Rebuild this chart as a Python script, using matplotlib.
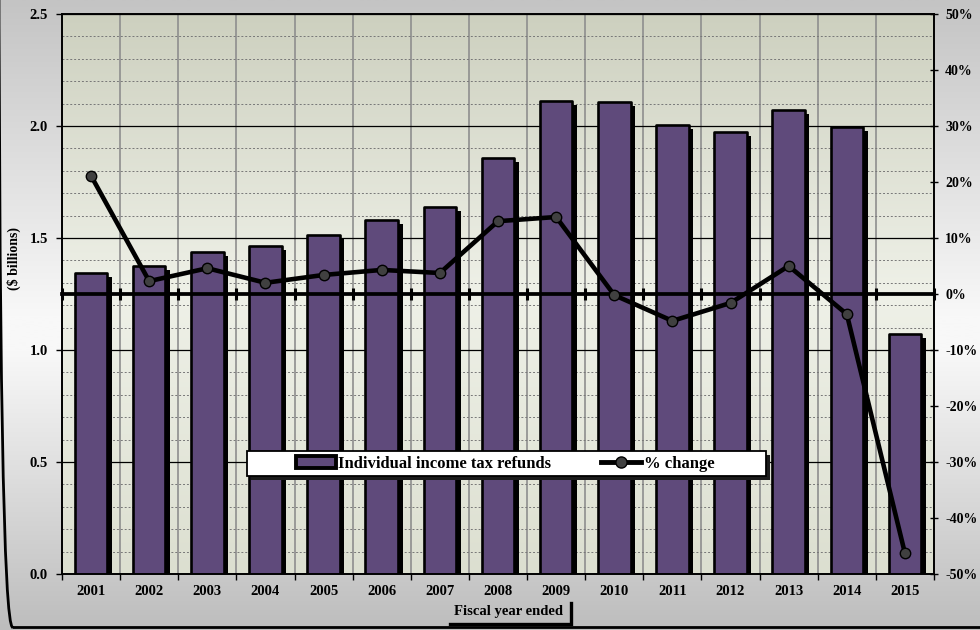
import numpy as np
import matplotlib
matplotlib.use('Agg')
import matplotlib.pyplot as plt
from matplotlib.patches import Rectangle, FancyBboxPatch, Patch
from matplotlib.lines import Line2D
from matplotlib.colors import LinearSegmentedColormap
from matplotlib.ticker import MultipleLocator, FixedLocator
import matplotlib.transforms as mtrans

# ---------------- data ----------------
years = ['2001', '2002', '2003', '2004', '2005', '2006', '2007', '2008',
         '2009', '2010', '2011', '2012', '2013', '2014', '2015']
refunds = [1.344, 1.375, 1.437, 1.464, 1.513, 1.580, 1.638, 1.857,
           2.110, 2.107, 2.004, 1.973, 2.070, 1.995, 1.071]
pct_change = [21.1, 2.3, 4.6, 2.0, 3.4, 4.3, 3.75, 13.0,
              13.75, -0.2, -4.8, -1.6, 5.0, -3.6, -46.3]
left_ticks = [0.0, 0.5, 1.0, 1.5, 2.0, 2.5]
left_labels = ['0.0', '0.5', '1.0', '1.5', '2.0', '2.5']
right_ticks = [-50, -40, -30, -20, -10, 0, 10, 20, 30, 40, 50]
right_labels = ['-50%', '-40%', '-30%', '-20%', '-10%', '0%',
                '10%', '20%', '30%', '40%', '50%']
series_names = ['Individual income tax refunds', '% change']
xlabel = 'Fiscal year ended'
ylabel = '($ billions)'

# ---------------- style ----------------
FONT = 'Liberation Serif'
plt.rcParams['font.family'] = [FONT, 'DejaVu Serif']
plt.rcParams['font.weight'] = 'bold'
BAR_COLOR = '#5f4a7b'
W, H = 980, 630


def fx(px):
    return px / W


def fy(py):
    return 1 - py / H


fig = plt.figure(figsize=(W / 100, H / 100), dpi=100)

# figure background gradient
bg = fig.add_axes([0, 0, 1, 1], zorder=-10)
bg.set_axis_off()
bg_cmap = LinearSegmentedColormap.from_list(
    'bg', [(0.0, '#c4c4c4'), (0.5, '#f8f8f8'), (0.56, '#f8f8f8'), (1.0, '#bdbdbd')])
bg.imshow(np.linspace(0, 1, 256).reshape(-1, 1), cmap=bg_cmap, aspect='auto',
          extent=(0, 1, 0, 1), origin='upper')
bg.set_xlim(0, 1)
bg.set_ylim(0, 1)

# rounded outer border (only bottom/left corner visible)
border = FancyBboxPatch((-1.2, 2.5), 1200, 800,
                        boxstyle='round,pad=0,rounding_size=14',
                        transform=mtrans.IdentityTransform(),
                        fc='none', ec='black', lw=2.0, zorder=20)
fig.patches.append(border)

# ---------------- main axes ----------------
ax = fig.add_axes([62 / W, (H - 574) / H, 872 / W, 560 / H])
n = len(years)
x = np.arange(n)

plot_cmap = LinearSegmentedColormap.from_list(
    'pa', [(0.0, '#cdd0bf'), (0.5, '#eff1e8'), (1.0, '#dcdfd0')])
ax.imshow(np.linspace(0, 1, 256).reshape(-1, 1), cmap=plot_cmap, aspect='auto',
          extent=(-0.5, n - 0.5, 0, 2.5), origin='upper', zorder=0)

# bar shadows and bars
ax.bar(x + 0.078, np.array(refunds) - 0.017, width=0.56, color='black',
       linewidth=0, zorder=2)
ax.bar(x, refunds, width=0.56, color=BAR_COLOR, edgecolor='black',
       linewidth=1.9, zorder=3, joinstyle='round')

ax.set_xlim(-0.5, n - 0.5)
ax.set_ylim(0, 2.5)
ax.set_axisbelow(True)

ax.set_xticks(x, years)
ax.xaxis.set_minor_locator(FixedLocator(np.arange(-0.5, n, 1.0)))
ax.set_yticks(left_ticks, left_labels)
ax.yaxis.set_minor_locator(MultipleLocator(0.1))

ax.grid(which='minor', axis='x', color='#8e8e8e', lw=1.2)
ax.grid(which='major', axis='y', color='black', lw=0.9)
ax.grid(which='minor', axis='y', color='#777777', lw=0.7, ls=(0, (2, 2)))

ax.tick_params(axis='x', which='major', length=0, pad=8, labelsize=10.5)
ax.tick_params(axis='x', which='minor', length=4, width=1, direction='out')
ax.tick_params(axis='y', which='major', length=4, width=1, direction='out',
               pad=6, labelsize=10.5)
ax.tick_params(axis='y', which='minor', length=0)
for lab in ax.get_xticklabels() + ax.get_yticklabels():
    lab.set_fontweight('bold')

for s in ['left', 'bottom', 'top', 'right']:
    ax.spines[s].set_color('black')
    ax.spines[s].set_linewidth(1.2)

# ---------------- secondary axis ----------------
ax2 = ax.twinx()
ax2.patch.set_visible(False)
ax2.set_ylim(-50, 50)
ax2.set_yticks(right_ticks, right_labels)
ax2.tick_params(axis='y', length=6, width=1, direction='inout', pad=5,
                labelsize=10)
for lab in ax2.get_yticklabels():
    lab.set_fontweight('bold')
for s in ['left', 'bottom', 'top', 'right']:
    ax2.spines[s].set_color('black')
    ax2.spines[s].set_linewidth(1.2)

bounds = np.arange(-0.5, n, 1.0)
ax2.plot(bounds, np.zeros_like(bounds), color='black', lw=2.7,
         marker='|', ms=8, mew=2.2, zorder=4, clip_on=False)
ax2.plot(x, pct_change, color='black', lw=3.3, marker='o', ms=7.5,
         mfc='#404040', mec='black', mew=1.0, zorder=5,
         solid_joinstyle='round', solid_capstyle='round')
ax2.set_xlim(-0.5, n - 0.5)

# ---------------- legend ----------------
lx0, ly0, lx1, ly1 = 247, 451, 766, 476
fig.patches.append(Rectangle((fx(lx0 + 4), fy(ly1 + 4)), (lx1 - lx0) / W,
                             (ly1 - ly0) / H, transform=fig.transFigure,
                             fc='#1a1a1a', ec='none', zorder=6))
fig.patches.append(Rectangle((fx(lx0), fy(ly1)), (lx1 - lx0) / W,
                             (ly1 - ly0) / H, transform=fig.transFigure,
                             fc='white', ec='black', lw=1.3, zorder=7))
handles = [Patch(facecolor=BAR_COLOR, edgecolor='black', lw=2.8,
                 joinstyle='round'),
           Line2D([0], [0], color='black', lw=3.5, marker='o', ms=8,
                  mfc='#404040', mec='black', mew=1.0)]
leg = fig.legend(handles, series_names, loc='center',
                 bbox_to_anchor=(fx(505), fy(464)), ncol=2, frameon=False,
                 prop={'family': FONT, 'weight': 'bold', 'size': 12},
                 handlelength=2.4, handletextpad=0.15, columnspacing=3.0,
                 handleheight=0.7)
leg.set_zorder(8)

# ---------------- axis titles ----------------
fig.text(fx(508), fy(611), xlabel, ha='center', va='center',
         fontsize=10.5, fontweight='bold', family=FONT)
fig.lines.append(Line2D([fx(450), fx(571), fx(571)],
                        [fy(623.5), fy(623.5), fy(603)],
                        transform=fig.transFigure, color='black', lw=2.4,
                        solid_joinstyle='miter'))
fig.text(fx(14), fy(258), ylabel, ha='center', va='center', rotation=90,
         fontsize=10, fontweight='bold', family=FONT)

fig.savefig('out.png', dpi=100)
